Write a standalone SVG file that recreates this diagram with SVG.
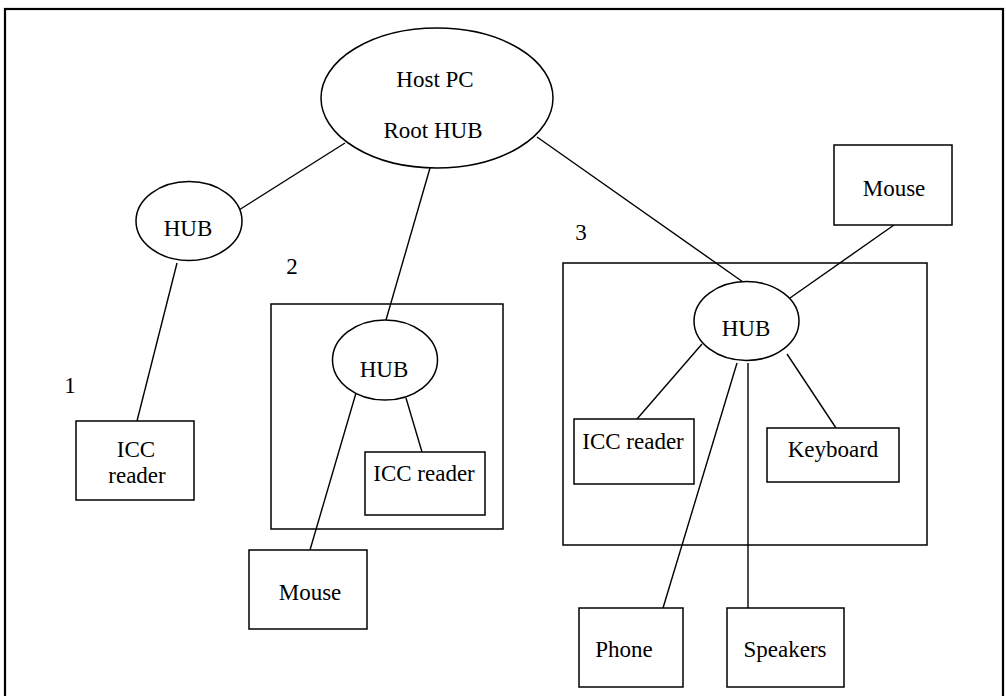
<svg xmlns="http://www.w3.org/2000/svg" width="1006" height="696" viewBox="0 0 1006 696">
<style>
.s{fill:none;stroke:#000;stroke-width:1.5}
.b{fill:#fff;stroke:#000;stroke-width:1.5}
.c{stroke:#000;stroke-width:1.4;fill:none}
text{font-family:"Liberation Serif","Times New Roman",serif;font-size:23px;fill:#000}
.m{text-anchor:middle}
</style>
<rect width="1006" height="696" fill="#fff"/>
<rect x="5" y="9" width="998" height="700" fill="none" stroke="#000" stroke-width="2.2"/>
<g id="group2"><rect class="s" x="271" y="304" width="232" height="225"/><text x="292" y="274" class="m">2</text></g>
<g id="group3"><rect class="s" x="563" y="263" width="364" height="282"/><text x="581" y="240" class="m">3</text></g>
<text x="70" y="393" class="m">1</text>
<g id="connectors">
<line class="c" x1="345" y1="143" x2="239" y2="210"/>
<line class="c" x1="430" y1="168" x2="386" y2="320"/>
<line class="c" x1="537" y1="137" x2="743" y2="282"/>
<line class="c" x1="177" y1="263" x2="137" y2="421"/>
<line class="c" x1="406" y1="398" x2="422" y2="452"/>
<line class="c" x1="356" y1="393" x2="310" y2="550"/>
<line class="c" x1="894" y1="225" x2="790" y2="298"/>
<line class="c" x1="702" y1="344" x2="637" y2="419"/>
<line class="c" x1="787" y1="354" x2="836" y2="428"/>
<line class="c" x1="737" y1="363" x2="663" y2="608"/>
<line class="c" x1="748" y1="363" x2="748" y2="608"/>
</g>
<g id="root"><ellipse class="b" cx="437" cy="98" rx="116" ry="70"/><text x="435" y="87" class="m">Host PC</text><text x="433" y="138" class="m">Root HUB</text></g>
<g id="hub1"><ellipse class="b" cx="189" cy="221" rx="53" ry="39.5"/><text x="188" y="236" class="m">HUB</text></g>
<g id="hub2"><ellipse class="b" cx="385" cy="360" rx="52.5" ry="40"/><text x="384" y="377" class="m">HUB</text></g>
<g id="hub3"><ellipse class="b" cx="746.5" cy="321" rx="52.5" ry="39.5"/><text x="746" y="336" class="m">HUB</text></g>
<g id="icc1"><rect class="b" x="76" y="421" width="118" height="79"/><text x="136" y="457" class="m">ICC</text><text x="137" y="483" class="m">reader</text></g>
<g id="icc2"><rect class="b" x="365" y="452" width="120" height="63"/><text x="424" y="481" class="m">ICC reader</text></g>
<g id="mouse2"><rect class="b" x="249" y="550" width="118" height="79"/><text x="310" y="600" class="m">Mouse</text></g>
<g id="mouse3"><rect class="b" x="834" y="145" width="118" height="80"/><text x="894" y="196" class="m">Mouse</text></g>
<g id="icc3"><rect class="b" x="574" y="419" width="120" height="65"/><text x="633" y="449" class="m">ICC reader</text></g>
<g id="keyboard"><rect class="b" x="767" y="428" width="132" height="54"/><text x="833" y="457" class="m">Keyboard</text></g>
<g id="phone"><rect class="b" x="579" y="608" width="104" height="79"/><text x="624" y="657" class="m">Phone</text></g>
<g id="speakers"><rect class="b" x="727" y="608" width="117" height="79"/><text x="785" y="657" class="m">Speakers</text></g>
</svg>
